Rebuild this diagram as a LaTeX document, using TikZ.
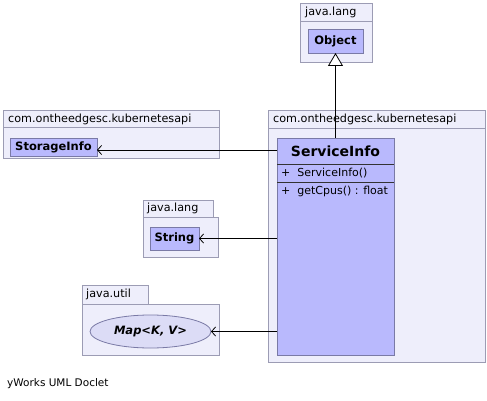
\documentclass[tikz,border=0pt]{standalone}
\usepackage{fontspec}
\setmainfont{DejaVu Sans}
\usetikzlibrary{arrows.meta,shapes.geometric}
\definecolor{pkgfill}{HTML}{EEEEFB}
\definecolor{pkgdraw}{HTML}{9C9CB4}
\definecolor{clsfill}{HTML}{B9B9FD}
\definecolor{clsdraw}{HTML}{7A7AA6}
\definecolor{ifcfill}{HTML}{DCDCF6}
\tikzset{
  pkg/.style={draw=pkgdraw,fill=pkgfill,line width=0.8pt,inner sep=0pt,outer sep=0pt},
  pkglabel/.style={font=\fontsize{11.2}{13}\selectfont,anchor=west,inner sep=0pt},
  cls/.style={draw=clsdraw,fill=clsfill,line width=0.8pt,inner sep=0pt,outer sep=0pt},
  clsname/.style={font=\bfseries\fontsize{11.5}{13}\selectfont},
  member/.style={font=\fontsize{11}{13}\selectfont,anchor=west,inner sep=0pt},
  dep/.style={line width=0.9pt,-{Straight Barb[length=4pt,width=9pt,line width=0.8pt]}},
  gen/.style={line width=0.9pt,-{Triangle[open,length=13pt,width=15pt,fill=white,line width=0.8pt]}}
}
\newcommand{\boxat}[6]{% style, name, x1,y1,x2,y2
  \node[#1,minimum width={(#5-#3)*1pt},minimum height={(#6-#4)*1pt}] (#2) at ({(#3+#5)/2},{(#4+#6)/2}) {};}
\begin{document}
\begin{tikzpicture}[x=1pt,y=-1pt]
\useasboundingbox (0,0) rectangle (487,401);
% --- java.lang (Object)
\boxat{pkg}{objpkg}{300}{3}{372}{62}
\draw[pkgdraw,line width=0.8pt] (300,21) -- (372,21);
\node[pkglabel] (objpkglbl) at (305,12) {java.lang};
\boxat{cls}{obj}{308}{29}{363}{53}
\node[clsname] (objlbl) at (obj.center) {Object};
% --- main package
\boxat{pkg}{mainpkg}{268}{110}{485}{362}
\draw[pkgdraw,line width=0.8pt] (268,128) -- (485,128);
\node[pkglabel] (mainpkglbl) at (273,119) {com.ontheedgesc.kubernetesapi};
\boxat{cls}{svc}{277}{138}{394}{355}
\draw[black!80,line width=0.8pt] (277,164) -- (394,164);
\draw[black!80,line width=0.8pt] (277,182) -- (394,182);
\node[font=\bfseries\fontsize{14}{16}\selectfont] (svclbl) at (335.5,151) {ServiceInfo};
\node[member] (ctor) at (281,173) {+\ \ ServiceInfo()};
\node[member] (meth) at (281,191) {+\ \ getCpus() : float};
% --- storage package
\boxat{pkg}{storpkg}{3}{110}{219}{158}
\draw[pkgdraw,line width=0.8pt] (3,127) -- (219,127);
\node[pkglabel] (storpkglbl) at (8,119) {com.ontheedgesc.kubernetesapi};
\boxat{cls}{stor}{10}{138}{97}{156}
\node[clsname] (storlbl) at (stor.center) {StorageInfo};
% --- java.lang (String)
\boxat{pkg}{strtab}{143}{200}{213}{217}
\boxat{pkg}{strpkg}{143}{217}{218}{257}
\node[pkglabel] (strpkglbl) at (147,208.5) {java.lang};
\boxat{cls}{str}{150}{227}{199}{250}
\node[clsname] (strlbl) at (str.center) {String};
% --- java.util (Map)
\boxat{pkg}{maptab}{82}{285}{148}{304}
\boxat{pkg}{mappkg}{82}{304}{219}{355}
\node[pkglabel] (mappkglbl) at (86,294.5) {java.util};
\node[ellipse,draw=clsdraw,fill=ifcfill,line width=0.8pt,minimum width=121pt,minimum height=33pt,inner sep=0pt,outer sep=0pt] (map) at (150.5,331.5) {};
\node[font=\bfseries\itshape\fontsize{11.5}{13}\selectfont] (maplbl) at (map.center) {Map<K, V>};
% --- connectors
\draw[gen] (svc.north) -- (obj.south);
\draw[dep] (svc.west |- 0,150) -- (stor.east |- 0,150);
\draw[dep] (svc.west |- str.east) -- (str.east);
\draw[dep] (svc.west |- map.east) -- (map.east);
% --- footer
\node[anchor=west,inner sep=0pt,font=\fontsize{10.5}{12}\selectfont] (footer) at (7,384) {yWorks UML Doclet};
\end{tikzpicture}
\end{document}
